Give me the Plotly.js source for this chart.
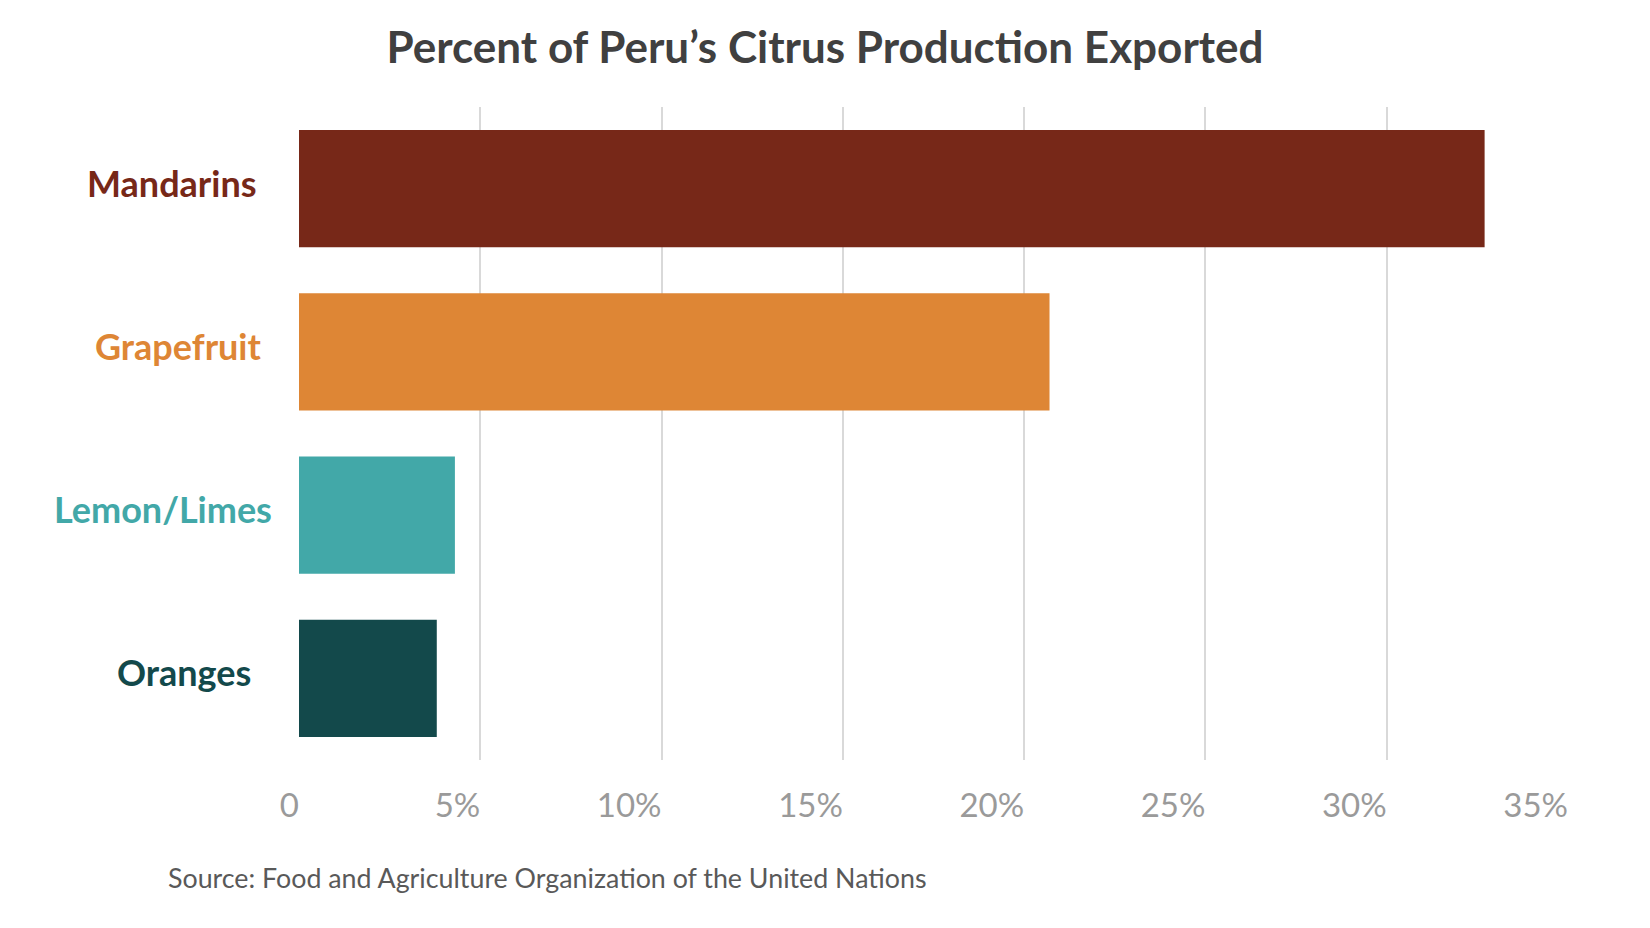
<!DOCTYPE html>
<html>
<head>
<meta charset="utf-8">
<script src="https://cdn.plot.ly/plotly-3.0.1.min.js"></script>
<style>
  html,body{margin:0;padding:0;background:#fff;}
  #chart{width:1650px;height:928px;}
</style>
</head>
<body>
<div id="chart"></div>
<script>
// data
const categories=["Mandarins","Grapefruit","Lemon/Limes","Oranges"];
const percentExported=[32.7,20.7,4.3,3.8];
const barColors=["#772818","#de8635","#42a8a8","#13494b"];
const tickVals=[0,5,10,15,20,25,30,35];
const tickLabels=["0","5%","10%","15%","20%","25%","30%","35%"];

const font="Lato, 'Open Sans', sans-serif";
// horizontal centre of each category label (paper units, left of the axis)
const labelCentres=[-0.100,-0.095,-0.107,-0.091];

const barTrace={
    type:"bar",
    orientation:"h",
    x:percentExported,
    y:categories,
    marker:{color:barColors},
    hoverinfo:"skip",
};

// category labels, coloured like their bars
const catLabels=categories.map((c,i)=>({
    text:"<b>"+c+"</b>",
    xref:"paper",
    yref:"y",
    x:labelCentres[i],
    y:c,
    xanchor:"center",
    yanchor:"middle",
    yshift:6,
    showarrow:false,
    font:{family:font,size:36,color:barColors[i]},
}));

const layout={
    width:1650,
    height:928,
    paper_bgcolor:"#ffffff",
    plot_bgcolor:"#ffffff",
    showlegend:false,
    bargap:0.283,
    margin:{l:299,r:82,t:107,b:168,pad:0},
    title:{
        text:"<b>Percent of Peru’s Citrus Production Exported</b>",
        font:{family:font,size:44,color:"#404040"},
        x:0.5,
        xanchor:"center",
        y:0.949,
        yanchor:"middle",
    },
    xaxis:{
        range:[0,35],
        tickvals:tickVals,
        ticktext:tickLabels,
        ticklabelposition:"outside left",
        ticklabelstandoff:23,
        tickfont:{family:font,size:33,color:"#9a9a9a"},
        showgrid:true,
        gridcolor:"#d9d9d9",
        gridwidth:2,
        zeroline:false,
        showline:false,
        ticks:"",
        fixedrange:true,
    },
    yaxis:{
        autorange:"reversed",
        showticklabels:false,
        showgrid:false,
        zeroline:false,
        showline:false,
        ticks:"",
        fixedrange:true,
    },
    annotations:catLabels.concat([{
        text:"Source: Food and Agriculture Organization of the United Nations",
        xref:"paper",
        yref:"paper",
        x:-0.1048,
        y:-0.1807,
        xanchor:"left",
        yanchor:"middle",
        showarrow:false,
        font:{family:font,size:26.8,color:"#595959"},
    }]),
};

Plotly.newPlot("chart",[barTrace],layout,{displayModeBar:false,staticPlot:true});
</script>
</body>
</html>
